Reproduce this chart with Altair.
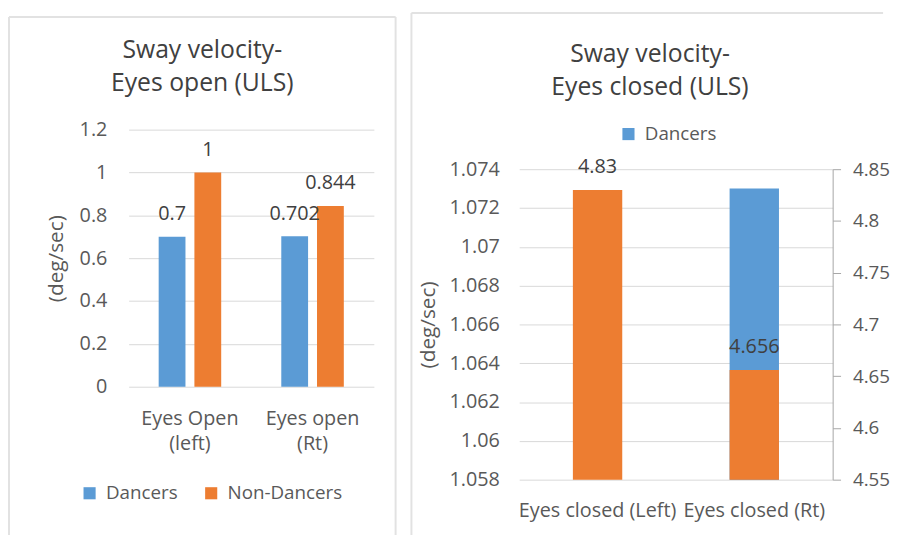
import altair as alt
import pandas as pd

# ---- data ----
open_categories = ["Eyes Open (left)", "Eyes open (Rt)"]
groups = ["Dancers", "Non-Dancers"]
open_dancers = [0.7, 0.702]
open_non_dancers = [1.0, 0.844]
open_label_text = ["0.7", "0.702", "1", "0.844"]

closed_categories = ["Eyes closed (Left)", "Eyes closed (Rt)"]
closed_dancers_cat = ["Eyes closed (Rt)"]
closed_dancers = [1.073]
closed_non_dancers = [4.83, 4.656]
closed_label_text = ["4.83", "4.656"]

left_ticks = [0, 0.2, 0.4, 0.6, 0.8, 1.0, 1.2]
closed_left_ticks = [1.058, 1.06, 1.062, 1.064, 1.066, 1.068, 1.07, 1.072, 1.074]
closed_right_ticks = [4.55, 4.6, 4.65, 4.7, 4.75, 4.8, 4.85]

BLUE = "#5B9BD5"
ORANGE = "#ED7D31"
GRID = "#D9D9D9"
CARD = "#E2E2E2"
TXT = "#595959"
DARK = "#404040"
FONT = "Open Sans"

one_row = pd.DataFrame({"k": [0]})


def card_frame(left, top, right, bottom, right_side=True):
    """Light chart-area border, in pixels relative to the plot origin."""
    base = alt.Chart(one_row).mark_rule(color=CARD, strokeWidth=2)
    parts = [
        base.encode(x=alt.value(left), y=alt.value(top), y2=alt.value(bottom)),
        base.encode(x=alt.value(left), x2=alt.value(right), y=alt.value(top)),
    ]
    if right_side:
        parts.append(base.encode(x=alt.value(right), y=alt.value(top), y2=alt.value(bottom)))
    return parts


open_df = pd.DataFrame({
    "cat": open_categories * 2,
    "group": [groups[0]] * 2 + [groups[1]] * 2,
    "value": open_dancers + open_non_dancers,
    "label": open_label_text,
})

split_expr = ("[slice(datum.label, 0, indexof(datum.label, ' (')), "
              "slice(datum.label, indexof(datum.label, ' (') + 1)]")

x_open = alt.X("cat:N", sort=open_categories,
               scale=alt.Scale(domain=open_categories, paddingInner=0.49, paddingOuter=0.245),
               axis=alt.Axis(title=None, labelAngle=0, ticks=False, tickSize=0, domain=False,
                             labelPadding=22, labelFontSize=20, labelColor=TXT,
                             labelExpr=split_expr, labelLineHeight=25, labelBaseline="top"))
xoff = alt.XOffset("group:N", sort=groups,
                   scale=alt.Scale(domain=groups, paddingInner=0.25, paddingOuter=0))

y_open = alt.Y("value:Q",
               scale=alt.Scale(domain=[0, 1.2], nice=False),
               axis=alt.Axis(title="(deg/sec)", values=left_ticks, format=".1~f",
                             ticks=False, tickSize=0, domain=False, labelPadding=22,
                             labelFontSize=20, labelColor=TXT, gridColor=GRID,
                             titleFontSize=21, titleFontWeight="normal", titleColor=TXT,
                             titlePadding=13))

open_bars = alt.Chart(open_df).mark_bar().encode(
    x=x_open, xOffset=xoff, y=y_open,
    color=alt.Color("group:N", sort=groups,
                    scale=alt.Scale(domain=groups, range=[BLUE, ORANGE]),
                    legend=alt.Legend(title=None, orient="none", direction="horizontal",
                                      legendX=-49, legendY=358, symbolType="square",
                                      symbolSize=150, symbolStrokeWidth=0,
                                      labelFontSize=19, labelColor=TXT, labelOffset=7,
                                      columnPadding=24)),
)
open_text = alt.Chart(open_df).mark_text(fontSize=20, color=DARK, baseline="middle", dy=-23).encode(
    x=x_open, xOffset=xoff, y=y_open, text="label:N"
)
left_chart = alt.layer(*card_frame(-121, -114, 270, 410), open_bars, open_text).properties(
    width=248, height=260,
    title=alt.TitleParams(["Sway velocity-", "Eyes open (ULS)"], fontSize=25,
                          fontWeight="normal", color=DARK, lineHeight=33,
                          anchor="middle", frame="bounds", offset=-81),
)

# ---- right chart (plot frame starts 40px above the top gridline, like the reference) ----
RH = 354
R_TOP = 40
closed_blue_df = pd.DataFrame({"cat": closed_dancers_cat, "value": closed_dancers,
                               "group": ["Dancers"] * len(closed_dancers)})
closed_orange_df = pd.DataFrame({"cat": closed_categories, "value": closed_non_dancers,
                                 "label": closed_label_text})

x_closed = alt.X("cat:N", sort=closed_categories,
                 scale=alt.Scale(domain=closed_categories, paddingInner=0.685, paddingOuter=0.3425),
                 axis=alt.Axis(title=None, labelAngle=0, ticks=False, tickSize=0, domain=False,
                               labelPadding=21, labelFontSize=20, labelColor=TXT,
                               labelBaseline="top"))

blue_bar = alt.Chart(closed_blue_df).mark_bar(clip=True).encode(
    x=x_closed,
    y=alt.Y("value:Q", scale=alt.Scale(domain=[1.058, 1.074], range=[RH, R_TOP],
                                       nice=False, zero=False),
            axis=alt.Axis(title="(deg/sec)", values=closed_left_ticks, format=".3~f",
                          ticks=False, tickSize=0, domain=False, labelPadding=20,
                          labelFontSize=20, labelColor=TXT, gridColor=GRID,
                          titleFontSize=21, titleFontWeight="normal", titleColor=TXT,
                          titlePadding=11)),
    color=alt.Color("group:N", scale=alt.Scale(domain=["Dancers"], range=[BLUE]),
                    legend=alt.Legend(title=None, orient="none", legendX=101, legendY=-5,
                                      symbolType="square", symbolSize=150,
                                      symbolStrokeWidth=0, labelFontSize=19,
                                      labelColor=TXT, labelOffset=7)),
)

y_right = alt.Y("value:Q", scale=alt.Scale(domain=[4.55, 4.85], range=[RH, R_TOP],
                                           nice=False, zero=False),
                axis=alt.Axis(title=None, orient="right", values=closed_right_ticks,
                              format=".2~f", grid=False, domain=True, domainColor="#A6A6A6",
                              ticks=True, tickColor="#A6A6A6", tickSize=8, labelPadding=12,
                              labelFontSize=19, labelColor=TXT))
orange_bar = alt.Chart(closed_orange_df).mark_bar(color=ORANGE, clip=True).encode(
    x=x_closed, y=y_right
)
orange_text = alt.Chart(closed_orange_df).mark_text(fontSize=20, color=DARK, baseline="middle",
                                                    dy=-23).encode(
    x=x_closed, y=y_right, text="label:N"
)
right_chart = alt.layer(
    alt.layer(*card_frame(-109, -118, 368, 410, right_side=False)),
    blue_bar,
    alt.layer(orange_bar, orange_text),
).resolve_scale(
    y="independent"
).properties(
    width=317, height=RH,
    title=alt.TitleParams(["Sway velocity-", "Eyes closed (ULS)"], fontSize=25,
                          fontWeight="normal", color=DARK, lineHeight=33,
                          anchor="middle", frame="bounds", offset=-89),
)

chart = alt.hconcat(left_chart, right_chart, spacing=14).resolve_scale(
    color="independent"
).resolve_legend(color="independent").configure(
    font=FONT,
    padding={"left": 0, "top": 1, "right": 0, "bottom": 0},
    background="white",
).configure_view(stroke=None)

chart.save("out.html", embed_options={"renderer": "svg", "actions": False})
